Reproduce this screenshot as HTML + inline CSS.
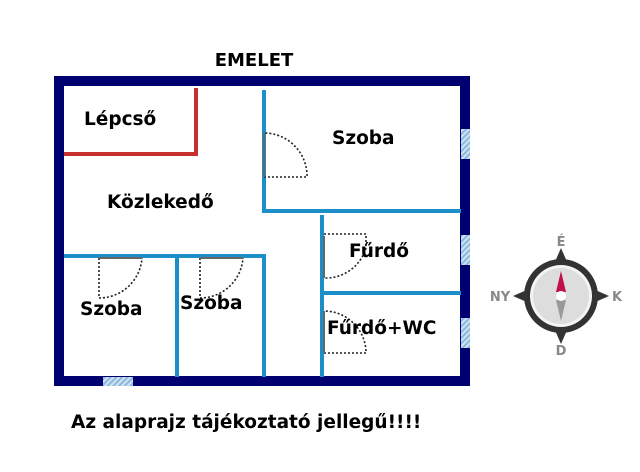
<!DOCTYPE html><html><head><style>body{margin:0;background:#fff}</style></head><body>
<svg width="640" height="467" viewBox="0 0 640 467" xmlns="http://www.w3.org/2000/svg" font-family="DejaVu Sans, Liberation Sans, sans-serif" font-weight="bold">
<defs><pattern id="h" width="4" height="4" patternUnits="userSpaceOnUse" patternTransform="rotate(45)"><rect width="4" height="4" fill="#cfe3f3"/><rect width="2" height="4" fill="#8bb8dd"/></pattern></defs>
<text x="254" y="66" font-size="18" text-anchor="middle" fill="#000">EMELET</text>
<rect x="59" y="81" width="406" height="300" fill="none" stroke="#000070" stroke-width="10"/>
<rect x="461" y="129" width="9" height="30" fill="url(#h)"/>
<rect x="461" y="235" width="9" height="30" fill="url(#h)"/>
<rect x="461" y="318" width="9" height="30" fill="url(#h)"/>
<rect x="103" y="377" width="30" height="9" fill="url(#h)"/>
<g stroke="#c8302f" stroke-width="4" fill="none"><path d="M64 154H196V88"/></g>
<g stroke="#1a8fc8" stroke-width="4" fill="none">
<path d="M264 90V211H461"/><path d="M322 215V377"/><path d="M322 293H461"/>
<path d="M64 256H264V377"/><path d="M177 256V377"/></g>
<g stroke="#222" stroke-width="1.6" stroke-dasharray="2,2" fill="none">
<path d="M264 177H307A43 43 0 0 0 264 133"/>
<path d="M99 258V298A43 43 0 0 0 142 258"/>
<path d="M200 258V298A43 43 0 0 0 243 258"/>
<path d="M324 234H366V248A42 42 0 0 1 324 278"/>
<path d="M324 353H366A42 42 0 0 0 324 311"/></g>
<g stroke="#666" stroke-width="2"><path d="M264 133V177M99 258H142M200 258H243M324 236V278M324 311V353"/></g>
<g font-size="18.5" fill="#000">
<text x="84" y="125">Lépcső</text><text x="332" y="144">Szoba</text>
<text x="107" y="208">Közlekedő</text><text x="349" y="257">Fűrdő</text>
<text x="80" y="315">Szoba</text><text x="180" y="309">Szoba</text>
<text x="327" y="334">Fűrdő+WC</text>
<text x="71" y="428">Az alaprajz tájékoztató jellegű!!!!</text></g>
<g transform="translate(561,296)">
<polygon points="0,-48 7,-32 -7,-32" fill="#333"/><polygon points="0,48 7,32 -7,32" fill="#333"/>
<polygon points="-48,0 -32,7 -32,-7" fill="#333"/><polygon points="48,0 32,7 32,-7" fill="#333"/>
<circle r="37" fill="#333"/><circle r="31" fill="#f4f4f4"/><circle r="28" fill="#ddd"/>
<polygon points="0,-25 -5,-4 5,-4" fill="#c0104a"/><polygon points="0,25 -5,4 5,4" fill="#999"/>
<circle r="5" fill="#fff"/>
<g font-size="13" fill="#888" text-anchor="middle"><text y="-50">É</text><text y="59">D</text><text x="-61" y="5">NY</text><text x="56" y="5">K</text></g></g>
</svg></body></html>
